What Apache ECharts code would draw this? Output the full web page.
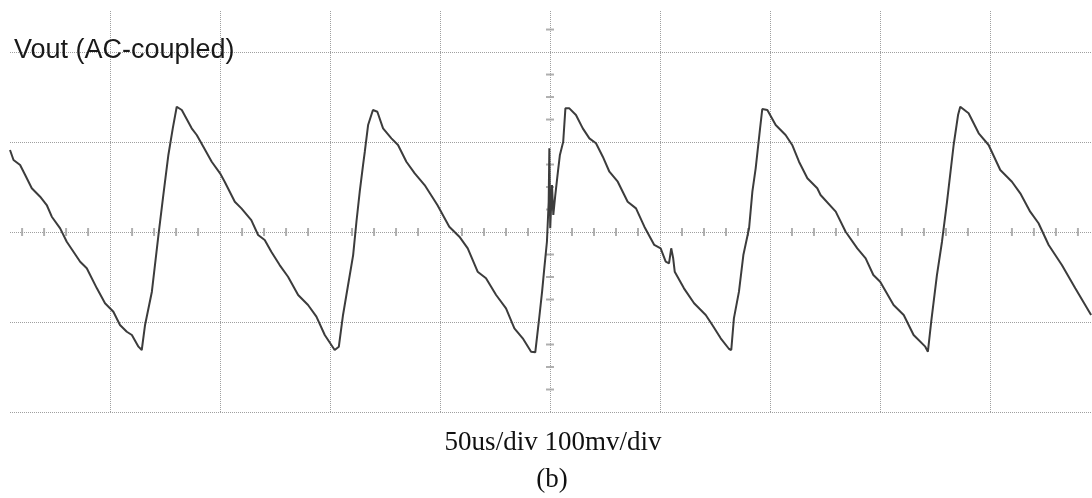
<!DOCTYPE html>
<html>
<head>
<meta charset="utf-8">
<script src="https://cdn.jsdelivr.net/npm/echarts@6/dist/echarts.min.js"></script>
<style>
html,body{margin:0;padding:0;background:#fff;}
#c{width:1092px;height:498px;}
</style>
</head>
<body>
<div id="c"></div>
<script>
// Oscilloscope trace: time in microseconds (0 = screen centre), voltage in mV (AC-coupled)
const timeUs = [
-245.5,-243.9,-240.9,-238.6,-235.6,-231.8,-228.8,-226.5,-222.7,-219.7,-213.6,-210.6,-206.0,-202.3,-198.5,-195.5,-192.4,-190.1,-187.1,-185.6,
-184.1,-181.0,-178.0,-175.8,-173.5,-171.5,-169.7,-167.4,-162.9,-160.6,-157.6,-153.8,-150.0,
-147.9,-143.3,-140.3,-135.8,-132.7,-129.7,-126.7,-122.9,-119.1,-114.5,-110.0,-106.2,-102.4,-97.9,-96.0,
-94.1,-91.8,-89.5,-88.0,-86.5,-85.0,-84.2,-82.7,-80.5,-78.5,-75.9,-72.1,-69.1,-65.3,-61.5,-57.0,-51.2,
-45.8,-41.2,-37.4,-32.9,-29.1,-24.5,-20.0,-16.2,-12.4,-8.6,-6.7,-5.1,-3.6,-2.6,-1.4,-0.6,-0.3,0.1,0.9,1.5,2.4,3.6,4.5,6.0,7.0,8.8,
11.8,14.9,17.9,20.9,24.0,27.0,30.8,35.3,39.1,42.9,47.4,
50.3,52.6,54.1,55.1,56.0,56.7,60.9,65.5,70.8,73.8,77.6,81.4,82.4,83.6,85.9,87.9,90.5,92.0,93.5,95.5,96.5,98.8,
102.6,107.1,110.1,113.2,117.0,121.5,123.0,129.9,134.4,139.7,143.5,147.0,
150.1,156.2,160.8,165.3,170.6,171.8,173.3,175.9,178.2,180.5,183.5,185.5,186.5,190.3,194.9,199.4,204.7,210.0,213.8,218.3,222.1,226.7,232.7,238.8,246.0
];
const voltageMv = [
91.1,80.0,74.4,63.3,48.6,39.2,30.0,17.0,4.1,-10.8,-33.0,-40.3,-62.6,-79.2,-88.6,-103.3,-110.8,-114.4,-127.4,-131.1,
-103.3,-66.3,-3.3,41.1,85.6,115.2,139.2,135.6,115.2,107.8,94.8,78.1,65.2,
55.9,33.7,26.3,13.3,-3.3,-8.9,-21.9,-36.7,-49.7,-70.0,-81.1,-94.1,-114.4,-131.1,-127.4,
-92.2,-58.9,-25.6,11.4,44.8,74.4,89.2,118.9,135.6,133.7,115.2,104.1,96.7,78.1,65.2,52.2,30.0,
5.9,-5.2,-18.1,-44.1,-51.4,-70.0,-84.8,-107.0,-118.1,-133.0,-133.7,-99.7,-66.3,-40.3,-10.8,33.7,93.0,4.1,52.2,18.9,41.1,67.0,85.6,100.3,137.4,137.4,
130.0,115.2,104.1,98.6,83.7,67.0,55.9,33.7,26.3,5.9,-14.4,
-18.1,-33.0,-34.8,-18.1,-29.2,-44.1,-62.6,-79.2,-92.2,-103.3,-118.1,-130.0,-131.1,-95.9,-66.3,-25.6,4.1,44.8,70.8,115.2,136.7,135.6,
118.9,107.8,96.7,78.1,59.7,48.6,41.1,22.6,0.3,-18.1,-29.2,-47.8,
-55.2,-81.1,-92.2,-114.4,-127.4,-133.0,-99.7,-47.8,-10.8,33.7,96.7,130.0,139.2,131.9,109.7,96.7,68.9,55.9,43.0,22.6,9.7,-14.4,-36.7,-62.6,-92.2
];
// Graticule (50 us/div, 100 mV/div) and centre-line minor ticks
const xGridUs = [-200,-150,-100,-50,0,50,100,150,200];
const yGridMv = [-200,-100,0,100,200];
const xMinorStepUs = 10;   // 5 subdivisions per division
const yMinorStepMv = 25;   // 4 subdivisions per division
const xRange = [-245.5, 246.4];
const yRange = [-200, 245.6];
const titleText = 'Vout (AC-coupled)';
const captionText = '50us/div 100mv/div';
const subCaptionText = '(b)';

const trace = timeUs.map((t, i) => [t, voltageMv[i]]);

const xTicks = [];
for (let t = -240; t <= 240; t += xMinorStepUs) { if (t % 50 !== 0) xTicks.push([t, 0]); }
const yTicks = [];
for (let v = -175; v <= 225; v += yMinorStepMv) { if (v % 100 !== 0) yTicks.push([0, v]); }

const gridStyle = { color: '#a0a0a0', width: 1, type: [1, 1] };

const chart = echarts.init(document.getElementById('c'), null, { renderer: 'canvas' });
chart.setOption({
  animation: false,
  backgroundColor: '#ffffff',
  grid: { left: 10, right: 0, top: 11, bottom: 86, containLabel: false },
  xAxis: {
    type: 'value', min: xRange[0], max: xRange[1],
    axisLine: { show: false }, axisTick: { show: false }, axisLabel: { show: false }, splitLine: { show: false }
  },
  yAxis: {
    type: 'value', min: yRange[0], max: yRange[1],
    axisLine: { show: false }, axisTick: { show: false }, axisLabel: { show: false }, splitLine: { show: false }
  },
  graphic: [
    { type: 'text', left: 14, top: 37, z: 10,
      style: { text: titleText, font: '27px "Liberation Sans", Arial, sans-serif', fill: '#1a1a1a' } },
    { type: 'text', x: 553, y: 443, z: 10,
      style: { text: captionText, font: '27px "Liberation Serif", "Times New Roman", serif', fill: '#111', textAlign: 'center', textVerticalAlign: 'middle', verticalAlign: 'middle', align: 'center' } },
    { type: 'text', x: 552, y: 480, z: 10,
      style: { text: subCaptionText, font: '27px "Liberation Serif", "Times New Roman", serif', fill: '#111', textAlign: 'center', textVerticalAlign: 'middle', verticalAlign: 'middle', align: 'center' } }
  ],
  series: [
    {
      type: 'line', name: 'grid', data: [], silent: true,
      markLine: {
        silent: true, symbol: 'none', animation: false,
        label: { show: false },
        lineStyle: gridStyle,
        emphasis: { disabled: true },
        data: xGridUs.map(x => ({ xAxis: x })).concat(yGridMv.map(y => ({ yAxis: y })))
      }
    },
    {
      type: 'scatter', name: 'xticks', data: xTicks, silent: true,
      symbol: 'rect', symbolSize: [2, 8], itemStyle: { color: '#9c9c9c' }
    },
    {
      type: 'scatter', name: 'yticks', data: yTicks, silent: true,
      symbol: 'rect', symbolSize: [8, 2], itemStyle: { color: '#9c9c9c' }
    },
    {
      type: 'line', name: 'Vout', data: trace, showSymbol: false, symbol: 'none',
      clip: true, z: 5,
      lineStyle: { color: '#3c3c3c', width: 2 }
    }
  ]
});
</script>
</body>
</html>
